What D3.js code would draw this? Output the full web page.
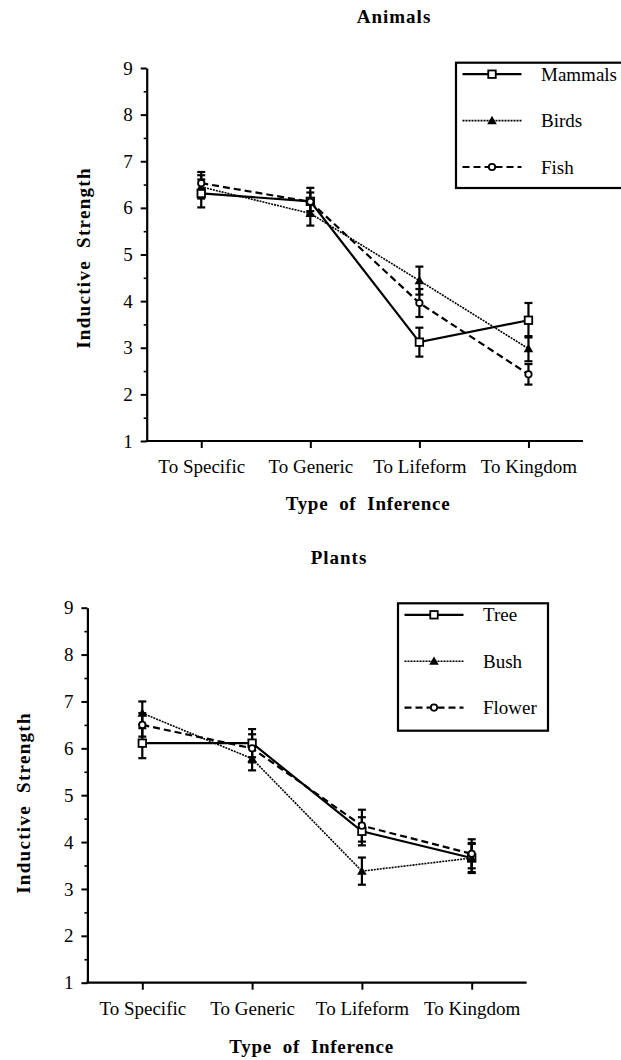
<!DOCTYPE html>
<html>
<head>
<meta charset="utf-8">
<script src="https://cdn.jsdelivr.net/npm/d3@7"></script>
<style>
  body { margin: 0; background: #fff; }
  text { font-family: "Liberation Serif", "Times New Roman", serif; fill: #000; }
</style>
</head>
<body>
<svg id="fig" width="621" height="1060"></svg>
<script>
// categories and ticks
const categories = ["To Specific", "To Generic", "To Lifeform", "To Kingdom"];
const yTickValues = [1, 2, 3, 4, 5, 6, 7, 8, 9];
const yMinorValues = [1.5, 2.5, 3.5, 4.5, 5.5, 6.5, 7.5, 8.5];

// animals panel
const mammals    = [6.31, 6.14, 3.12, 3.59];
const mammalsErr = [0.30, 0.29, 0.31, 0.37];
const birds      = [6.45, 5.88, 4.44, 2.98];
const birdsErr   = [0.25, 0.26, 0.30, 0.27];
const fish       = [6.53, 6.13, 3.96, 2.43];
const fishErr    = [0.24, 0.20, 0.30, 0.22];

// plants panel
const tree       = [6.11, 6.11, 4.23, 3.66];
const treeErr    = [0.32, 0.30, 0.30, 0.32];
const bush       = [6.75, 5.78, 3.38, 3.66];
const bushErr    = [0.25, 0.25, 0.29, 0.30];
const flower     = [6.50, 6.00, 4.35, 3.75];
const flowerErr  = [0.25, 0.30, 0.34, 0.31];

const svg = d3.select("svg#fig");

//line styles
const styles = {
  solid:  {width: 2.2, dash: null},
  dotted: {width: 1.6, dash: "2,1"},
  dashed: {width: 2.2, dash: "7,4"}
};

//markers
function marker(g, type, cx, cy) {
  if (type === "square") {
    g.append("rect")
     .attr("x", cx - 3.75).attr("y", cy - 3.75)
     .attr("width", 7.5).attr("height", 7.5)
     .attr("fill", "white").attr("stroke", "black").attr("stroke-width", 1.8);
  } else if (type === "triangle") {
    g.append("path")
     .attr("d", d3.symbol().type(d3.symbolTriangle).size(40)())
     .attr("transform", `translate(${cx},${cy + 0.8})`)
     .attr("fill", "black");
  } else {
    g.append("circle")
     .attr("cx", cx).attr("cy", cy).attr("r", 3.2)
     .attr("fill", "white").attr("stroke", "black").attr("stroke-width", 1.8);
  }
}

function drawPanel(p, series) {
  const g = svg.append("g");

  const x = d3.scalePoint().domain(categories).range([p.x0, p.x1]).padding(0.5);
  const y = d3.scaleLinear().domain([1, 9]).range([p.yBot, p.yTop]);

  // minor ticks
  g.append("g")
   .attr("transform", `translate(${p.x0},0)`)
   .call(d3.axisLeft(y).tickValues(yMinorValues).tickSize(3).tickFormat(""))
   .call(a => a.select(".domain").remove())
   .call(a => a.selectAll("line").attr("stroke-width", 1.6));

  // y axis
  g.append("g")
   .attr("transform", `translate(${p.x0},0)`)
   .call(d3.axisLeft(y).tickValues(yTickValues).tickSize(6).tickSizeOuter(0).tickPadding(8).tickFormat(d3.format("d")))
   .call(a => a.attr("font-family", null).attr("font-size", null))
   .call(a => a.select(".domain").attr("stroke-width", 2.2))
   .call(a => a.selectAll("line").attr("stroke-width", 2))
   .call(a => a.selectAll("text").style("font-size", "19px"));

  // x axis
  g.append("g")
   .attr("transform", `translate(0,${p.yBot})`)
   .call(d3.axisBottom(x).tickSize(7).tickSizeOuter(0).tickPadding(11.5))
   .call(a => a.attr("font-family", null).attr("font-size", null))
   .call(a => a.select(".domain").attr("stroke-width", 2.2).attr("d", `M${p.x0 - 1},0H${p.x1}`))
   .call(a => a.selectAll("line").attr("stroke-width", 2))
   .call(a => a.selectAll("text").style("font-size", "19px"));

  // titles
  g.append("text")
   .attr("x", p.titleX).attr("y", p.titleY)
   .attr("text-anchor", "middle")
   .style("font-size", "19px").style("font-weight", "bold").style("letter-spacing", "1px")
   .text(p.title);

  g.append("text")
   .attr("x", p.xTitleX).attr("y", p.xTitleY)
   .attr("text-anchor", "middle")
   .style("font-size", "19px").style("font-weight", "bold").style("letter-spacing", "0.7px")
   .style("white-space", "pre")
   .text("Type  of  Inference");

  g.append("text")
   .attr("transform", `translate(${p.yLabelX},${p.yLabelY}) rotate(-90)`)
   .attr("text-anchor", "middle").attr("dy", "0.35em")
   .style("font-size", "19px").style("font-weight", "bold").style("letter-spacing", "1.3px")
   .style("white-space", "pre")
   .text("Inductive  Strength");

  const line = d3.line().x((d, i) => x(categories[i])).y(d => y(d));

  // lines
  series.forEach(s => {
    g.append("path")
     .attr("d", line(s.values))
     .attr("fill", "none")
     .attr("stroke", "black")
     .attr("stroke-width", styles[s.style].width)
     .attr("stroke-dasharray", styles[s.style].dash);
  });

  // error bars
  series.forEach(s => {
    s.values.forEach((v, i) => {
      const cx = x(categories[i]);
      const lo = y(v - s.err[i]), hi = y(v + s.err[i]);
      g.append("line").attr("x1", cx).attr("x2", cx).attr("y1", lo).attr("y2", hi)
       .attr("stroke", "black").attr("stroke-width", 2.2);
      [lo, hi].forEach(cy => {
        g.append("line").attr("x1", cx - 4).attr("x2", cx + 4).attr("y1", cy).attr("y2", cy)
         .attr("stroke", "black").attr("stroke-width", 2.2);
      });
    });
  });

  // markers
  series.forEach(s => {
    s.values.forEach((v, i) => marker(g, s.marker, x(categories[i]), y(v)));
  });

  // legend
  const lg = g.append("g").attr("transform", `translate(${p.legendX},${p.legendY})`);
  lg.append("rect")
    .attr("width", p.legendW).attr("height", p.legendH)
    .attr("fill", "white").attr("stroke", "black").attr("stroke-width", 2.2);
  series.forEach((s, i) => {
    const ry = 11.5 + i * 46.4;
    lg.append("line")
      .attr("x1", 6.5).attr("x2", 65.5).attr("y1", ry).attr("y2", ry)
      .attr("stroke", "black")
      .attr("stroke-width", styles[s.style].width)
      .attr("stroke-dasharray", styles[s.style].dash);
    marker(lg, s.marker, 36, ry);
    lg.append("text")
      .attr("x", 85).attr("y", ry).attr("dy", "0.35em")
      .style("font-size", "19px")
      .text(s.name);
  });
}

drawPanel(
  {x0: 146.7, x1: 583, yTop: 68, yBot: 441, title: "Animals", titleX: 394, titleY: 23,
   xTitleX: 368, xTitleY: 510, yLabelX: 83, yLabelY: 258,
   legendX: 456, legendY: 62.7, legendW: 178, legendH: 125.3},
  [
    {name: "Mammals", values: mammals, err: mammalsErr, style: "solid",  marker: "square"},
    {name: "Birds",   values: birds,   err: birdsErr,   style: "dotted", marker: "triangle"},
    {name: "Fish",    values: fish,    err: fishErr,    style: "dashed", marker: "circle"}
  ]
);

drawPanel(
  {x0: 87.4, x1: 526.6, yTop: 607.7, yBot: 982.7, title: "Plants", titleX: 339, titleY: 564,
   xTitleX: 311.6, xTitleY: 1053, yLabelX: 23, yLabelY: 803,
   legendX: 398, legendY: 603.3, legendW: 150, legendH: 127.4},
  [
    {name: "Tree",   values: tree,   err: treeErr,   style: "solid",  marker: "square"},
    {name: "Bush",   values: bush,   err: bushErr,   style: "dotted", marker: "triangle"},
    {name: "Flower", values: flower, err: flowerErr, style: "dashed", marker: "circle"}
  ]
);
</script>
</body>
</html>
